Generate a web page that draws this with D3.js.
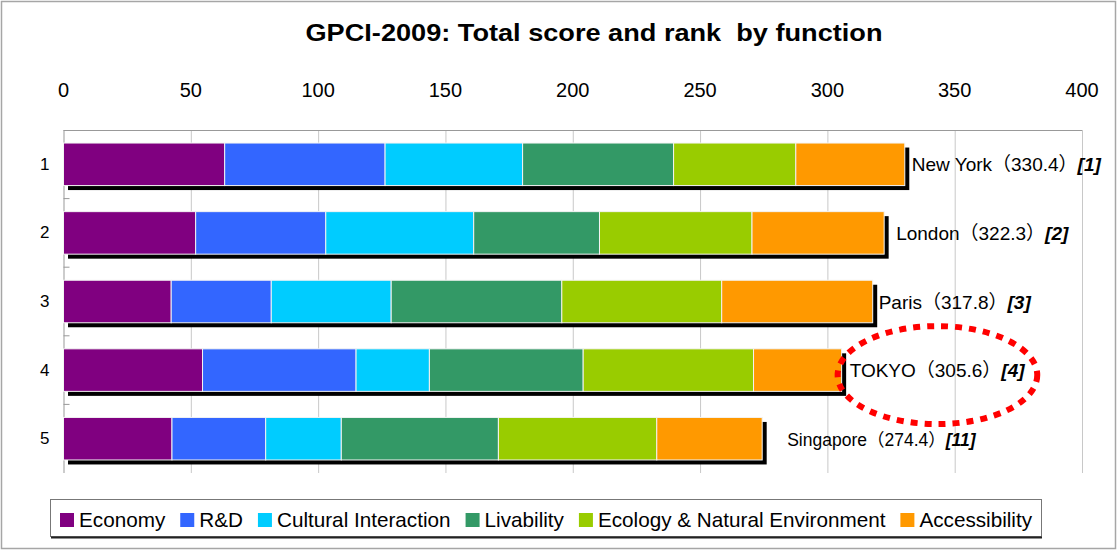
<!DOCTYPE html>
<html>
<head>
<meta charset="utf-8">
<script src="https://cdn.jsdelivr.net/npm/d3@7"></script>
<style>
  body { margin: 0; background: #fff; }
  svg text { font-family: "Liberation Sans", Arial, "Noto Sans CJK JP", sans-serif; white-space: pre; }
</style>
</head>
<body>
<div id="chart"></div>
<script>
// GPCI-2009 scores by function
const cities = ['New York', 'London', 'Paris', 'TOKYO', 'Singapore'];
const ranks = [1, 2, 3, 4, 5];
const overallRank = [1, 2, 3, 4, 11];
const totals = [330.4, 322.3, 317.8, 305.6, 274.4];
const functions = ['Economy', 'R&D', 'Cultural Interaction', 'Livability', 'Ecology & Natural Environment', 'Accessibility'];
const economy = [63.3, 51.9, 42.3, 54.6, 42.6];
const rnd = [63.0, 51.1, 39.3, 60.3, 36.8];
const cultural = [54.0, 58.1, 47.1, 28.8, 29.7];
const livability = [59.3, 49.4, 67.0, 60.4, 61.7];
const ecology = [48.0, 59.9, 62.8, 66.9, 62.2];
const accessibility = [42.8, 51.9, 59.3, 34.6, 41.4];
const xTicks = [0, 50, 100, 150, 200, 250, 300, 350, 400];

const colors = ['#800080', '#3366FF', '#00CCFF', '#339966', '#99CC00', '#FF9900'];
// gap between bar end and the city label, as it sits in the picture
const labelGap = [7, 12, 6, 8, 25];

const W = 1117, H = 550;
const svg = d3.select('#chart').append('svg').attr('width', W).attr('height', H);

// outer frame
svg.append('rect').attr('x', 1.5).attr('y', 1.5).attr('width', W - 3).attr('height', H - 3)
  .attr('fill', '#fff').attr('stroke', '#a6a6a6').attr('stroke-width', 1.5);

// title
svg.append('text').attr('x', 594).attr('y', 41).attr('text-anchor', 'middle')
  .style('font-size', '24px').style('font-weight', 'bold')
  .attr('textLength', 577).attr('lengthAdjust', 'spacingAndGlyphs')
  .text('GPCI-2009: Total score and rank  by function');

const x = d3.scaleLinear().domain([0, 400]).range([63.5, 1082]);
const y = d3.scaleBand().domain(ranks).range([130, 473]).paddingInner(0.38).paddingOuter(0.19);

// grid
svg.append('g').selectAll('line').data(xTicks.slice(1)).join('line')
  .attr('x1', d => x(d) + 0.5).attr('x2', d => x(d) + 0.5)
  .attr('y1', 130).attr('y2', 473)
  .attr('stroke', '#c8c8c8').attr('stroke-width', 1);
svg.append('line').attr('x1', x(0)).attr('x2', x(400)).attr('y1', 130.5).attr('y2', 130.5)
  .attr('stroke', '#999');

// top tick labels
svg.append('g').selectAll('text').data(xTicks).join('text')
  .attr('x', d => x(d)).attr('y', 97).attr('text-anchor', 'middle')
  .style('font-size', '20px').text(d => d);

// left axis
const yAxis = svg.append('g').attr('transform', `translate(${x(0)},0)`)
  .call(d3.axisLeft(y).tickSize(0).tickPadding(14));
yAxis.select('.domain').attr('stroke', '#999').attr('d', 'M0.5,130V473');
yAxis.selectAll('text').style('font-size', '17px').attr('font-family', null).attr('fill', '#000');
// category separator ticks
svg.append('g').selectAll('line').data(ranks.slice(1)).join('line')
  .attr('x1', x(0)).attr('x2', x(0) + 6)
  .attr('y1', d => y(d) - y.step() * y.paddingInner() / 2)
  .attr('y2', d => y(d) - y.step() * y.paddingInner() / 2)
  .attr('stroke', '#999');

// stack
const rows = ranks.map((r, i) => ({
  rank: r, city: cities[i], total: totals[i], overall: overallRank[i],
  v: [economy[i], rnd[i], cultural[i], livability[i], ecology[i], accessibility[i]]
}));
const series = d3.stack().keys(d3.range(6)).value((d, k) => d.v[k])(rows);

// drop shadow behind each bar
svg.append('g').selectAll('rect').data(rows).join('rect')
  .attr('x', x(0) + 4.5).attr('y', d => y(d.rank) + 4.5)
  .attr('width', d => x(d3.sum(d.v)) - x(0))
  .attr('height', y.bandwidth())
  .attr('fill', '#000');

svg.append('g').selectAll('g').data(series).join('g')
  .attr('fill', (d, i) => colors[i])
  .selectAll('rect').data(d => d).join('rect')
  .attr('x', d => x(d[0])).attr('y', d => y(d.data.rank))
  .attr('width', d => x(d[1]) - x(d[0]))
  .attr('height', y.bandwidth())
  .attr('stroke', '#f4f4f4').attr('stroke-width', 1);

// city labels
const labels = svg.append('g').selectAll('text').data(rows).join('text')
  .attr('x', (d, i) => x(d3.sum(d.v)) + labelGap[i])
  .attr('y', d => y(d.rank) + y.bandwidth() / 2 + 7)
  .style('font-size', (d, i) => i === 4 ? '17.5px' : '19px');
labels.append('tspan').text(d => `${d.city}（${d.total.toFixed(1)}）`);
labels.append('tspan').style('font-weight', 'bold').style('font-style', 'italic')
  .text(d => `[${d.overall}]`);

// dotted ring around Tokyo
const tkRow = rows.find(d => d.city === 'TOKYO');
const tk = labels.filter(d => d.city === 'TOKYO').node().getBBox();
svg.append('ellipse')
  .attr('cx', tk.x + tk.width / 2).attr('cy', y(tkRow.rank) + y.bandwidth() / 2 + 5)
  .attr('rx', tk.width / 2 + 12).attr('ry', 49)
  .attr('fill', 'none').attr('stroke', '#ff0000').attr('stroke-width', 6)
  .attr('stroke-dasharray', '7 7');

// legend
const lg = svg.append('g');
lg.append('rect').attr('x', 50.5).attr('y', 499.5).attr('width', 991).attr('height', 37)
  .attr('fill', '#fff').attr('stroke', '#777');
lg.append('line').attr('x1', 51).attr('x2', 1042).attr('y1', 537.5).attr('y2', 537.5)
  .attr('stroke', '#222').attr('stroke-width', 2);
let lx = 60;
functions.forEach((f, i) => {
  lg.append('rect').attr('x', lx).attr('y', 513).attr('width', 14).attr('height', 14)
    .attr('fill', colors[i]);
  const t = lg.append('text').attr('x', lx + 19).attr('y', 527)
    .style('font-size', '20.7px').text(f);
  lx += 19 + t.node().getComputedTextLength() + 15;
});
</script>
</body>
</html>
